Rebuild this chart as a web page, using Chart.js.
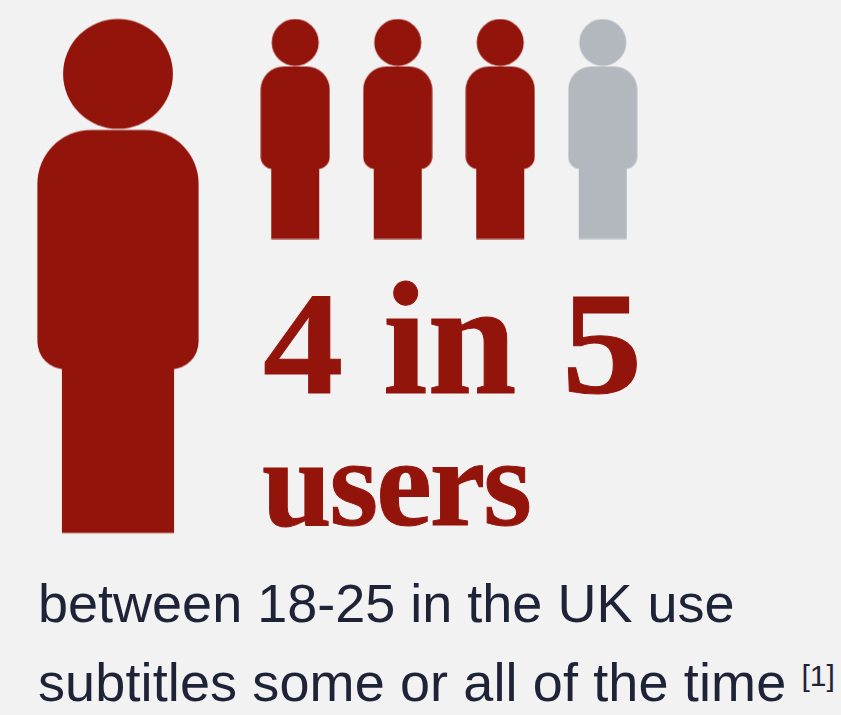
<!DOCTYPE html>
<html lang="en">
<head>
<meta charset="utf-8">
<title>4 in 5 users</title>
<script src="https://cdn.jsdelivr.net/npm/chart.js@4"></script>
<style>
    html, body { margin: 0; padding: 0; background: #f2f2f2; }
    body { position: relative; width: 841px; height: 715px; overflow: hidden; }
    canvas { position: absolute; top: 0; }
    #big-figure { left: 0; }
    #small-figures { left: 243px; }
    .headline, .note { position: absolute; margin: 0; white-space: nowrap; }
    .headline { font-family: "Liberation Serif", serif; font-weight: 700; color: #93140b; -webkit-text-stroke: 1px #93140b; }
    #ratio { left: 263px; top: 254px; font-size: 160px; line-height: 170px; }
    #ratio .digit { font-size: 146px; display: inline-block; transform: scaleX(1.1); transform-origin: left; }
    #ratio .word { margin-left: 47px; margin-right: 46px; }
    #group { left: 262px; top: 418px; font-size: 125px; line-height: 130px; letter-spacing: -2px; }
    .note { left: 38px; font-family: "Liberation Sans", sans-serif; font-size: 54px; line-height: 60px; color: #1f2338; }
    #note-1 { top: 573px; }
    #note-2 { top: 652px; letter-spacing: 0.12px; }
    .note sup { font-size: 30px; line-height: 0; vertical-align: 15px; letter-spacing: 0; }
</style>
</head>
<body>
<canvas id="big-figure" width="236" height="552"></canvas>
<canvas id="small-figures" width="412" height="258"></canvas>
<h1 class="headline" id="ratio"><span class="digit">4</span><span class="word">in</span><span class="digit">5</span></h1>
<h2 class="headline" id="group">users</h2>
<p class="note" id="note-1">between 18-25 in the UK use</p>
<p class="note" id="note-2">subtitles some or all of the time <sup>[1]</sup></p>

<script>
// one person per category, the row value only keeps them on a line
const bigLabels = ['User'];
const bigCounted = [1];
const smallLabels = ['User 2', 'User 3', 'User 4', 'User 5'];
const smallCounted = [1, 1, 1, null];
const smallOthers = [null, null, null, 1];

const RED = '#93140b';
const GREY = '#b3b8bf';

// Person icon as a canvas for pointStyle. Drawn on a 220 tall grid, then scaled.
function personIcon(color, scale) {
    const c = document.createElement('canvas');
    c.width = Math.ceil(70 * scale);
    c.height = Math.ceil(221 * scale);
    const ctx = c.getContext('2d');
    ctx.fillStyle = color;
    ctx.translate(c.width / 2, c.height / 2);
    ctx.scale(scale, scale);
    ctx.translate(0, -110);

    ctx.beginPath();
    ctx.arc(0, 23.5, 23.5, 0, Math.PI * 2);
    ctx.fill();

    ctx.beginPath();
    ctx.roundRect(-34.5, 47.5, 69, 102.5, [23, 23, 12, 12]);
    ctx.fill();

    ctx.fillRect(-24, 145, 48, 75);
    return c;
}

function figureChart(id, labels, datasets) {
    return new Chart(document.getElementById(id), {
        type: 'line',
        data: { labels, datasets },
        options: {
            responsive: false,
            animation: false,
            events: [],
            layout: { padding: 0 },
            plugins: { legend: { display: false }, tooltip: { enabled: false } },
            scales: {
                x: { display: false, offset: true },
                y: { display: false, min: 0, max: 2 },
            },
        },
    });
}

// small radius and no borders so the line controller adds little overflow padding
function iconSeries(label, data, icon) {
    return {
        label,
        data,
        showLine: false,
        pointStyle: icon,
        pointRadius: 1,
        pointHoverRadius: 0,
        pointBorderWidth: 0,
        borderWidth: 0,
        clip: false,
    };
}

figureChart('big-figure', bigLabels, [
    iconSeries('Uses subtitles', bigCounted, personIcon(RED, 514 / 220)),
]);

figureChart('small-figures', smallLabels, [
    iconSeries('Uses subtitles', smallCounted, personIcon(RED, 1)),
    iconSeries('Does not', smallOthers, personIcon(GREY, 1)),
]);
</script>
</body>
</html>
